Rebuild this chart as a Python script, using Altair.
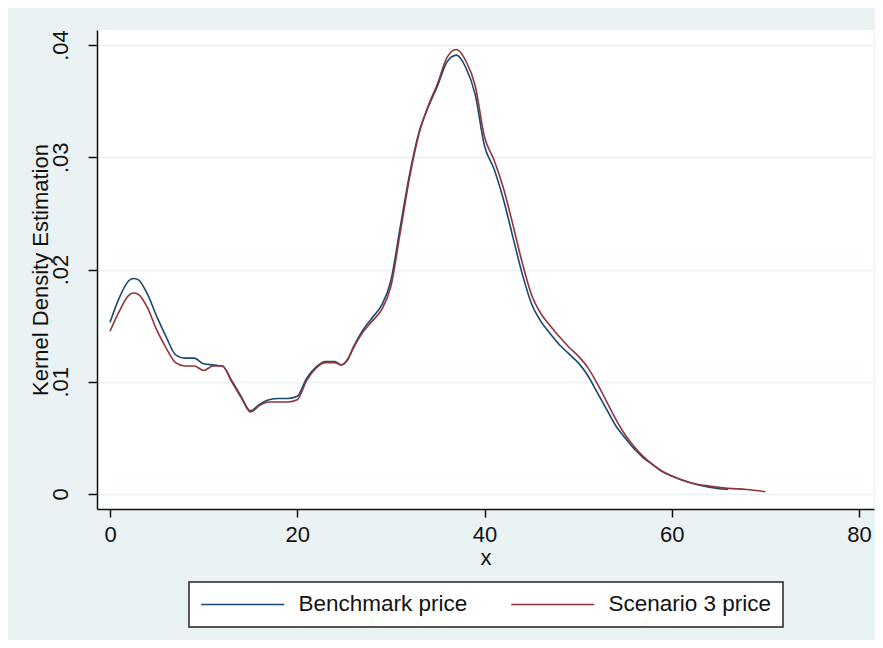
import altair as alt
import pandas as pd

x_vals = [0, 1, 2, 2.5, 3, 4, 5, 6, 7, 8, 9, 10, 11, 12, 13, 14, 15, 16, 17, 18, 19, 20,
          21, 22, 23, 24, 24.7, 25.4, 26, 27, 28, 29, 30, 31, 32, 33, 34, 35, 36, 37, 38,
          39, 40, 41, 42, 43, 44, 45, 46, 47, 48, 49, 50, 51, 52, 53, 54, 55, 56, 57, 58,
          59, 60, 62, 64, 66]

benchmark = [0.0153, 0.0175, 0.0190, 0.0192, 0.0191, 0.0178, 0.0158, 0.0140, 0.0124, 0.0121,
             0.0121, 0.0116, 0.0115, 0.0114, 0.0101, 0.0087, 0.0074, 0.0080, 0.0084, 0.0085,
             0.0085, 0.0087, 0.0103, 0.0113, 0.0118, 0.0118, 0.0115, 0.0120, 0.0131, 0.0146,
             0.0157, 0.0168, 0.0190, 0.0238, 0.0285, 0.0322, 0.0345, 0.0364, 0.0385, 0.0391,
             0.0380, 0.0356, 0.0310, 0.0290, 0.0263, 0.0230, 0.0197, 0.0170, 0.0154, 0.0143,
             0.0133, 0.0125, 0.0117, 0.0106, 0.0091, 0.0076, 0.0061, 0.0050, 0.0040, 0.0032,
             0.0026, 0.0020, 0.0016, 0.0010, 0.0006, 0.0004]

x_vals_s3 = x_vals + [68, 70]

scenario3 = [0.0145, 0.0163, 0.0177, 0.0179, 0.0178, 0.0166, 0.0146, 0.0130, 0.0117, 0.0114,
             0.0114, 0.0110, 0.0114, 0.0114, 0.0100, 0.0086, 0.0073, 0.0079, 0.0082, 0.0082,
             0.0082, 0.0084, 0.0101, 0.0112, 0.0117, 0.0117, 0.0115, 0.0120, 0.0130, 0.0144,
             0.0154, 0.0164, 0.0185, 0.0233, 0.0282, 0.0321, 0.0346, 0.0366, 0.0389, 0.0396,
             0.0386, 0.0364, 0.0318, 0.0298, 0.0273, 0.0241, 0.0207, 0.0178, 0.0161, 0.0150,
             0.0140, 0.0131, 0.0123, 0.0113, 0.0099, 0.0083, 0.0067, 0.0053, 0.0042, 0.0033,
             0.0026, 0.0020, 0.0016, 0.0010, 0.0007, 0.0005, 0.0004, 0.0002]

series_names = ["Benchmark price", "Scenario 3 price"]
series_colors = ["#1A476F", "#90353B"]
x_ticks = [0, 20, 40, 60, 80]
y_ticks = [0, 0.01, 0.02, 0.03, 0.04]

rows = []
for xv, yv in zip(x_vals, benchmark):
    rows.append({"x": xv, "density": yv, "series": series_names[0]})
for xv, yv in zip(x_vals_s3, scenario3):
    rows.append({"x": xv, "density": yv, "series": series_names[1]})
df = pd.DataFrame(rows)

FONT = "Liberation Sans"

chart = alt.Chart(df).mark_line(strokeWidth=1.6, interpolate="monotone").encode(
    x=alt.X("x:Q",
            scale=alt.Scale(domain=[-1.389, 81.6], nice=False, zero=False),
            axis=alt.Axis(values=x_ticks, title="x", grid=False, format="d",
                          labelFont=FONT, labelFontSize=22, labelColor="#111",
                          labelBaseline="alphabetic", labelPadding=24,
                          tickSize=8, tickWidth=1.5, tickColor="#111",
                          domainColor="#111", domainWidth=1.5,
                          titleFont=FONT, titleFontSize=22, titleFontWeight="normal",
                          titleColor="#111", titleBaseline="alphabetic", titleY=55)),
    y=alt.Y("density:Q",
            scale=alt.Scale(domain=[-0.00134, 0.04134], nice=False, zero=False),
            axis=alt.Axis(values=y_ticks, title="Kernel Density Estimation",
                          labelExpr="datum.value == 0 ? '0' : slice(format(datum.value, '.2f'), 1)",
                          labelFont=FONT, labelFontSize=22, labelColor="#111",
                          labelAngle=270, labelAlign="center", labelBaseline="alphabetic",
                          labelPadding=21,
                          tickSize=9, tickWidth=1.5, tickColor="#111",
                          domainColor="#111", domainWidth=1.5,
                          grid=True, gridColor="#EAF2F3", gridWidth=1.3,
                          titleFont=FONT, titleFontSize=22, titleFontWeight="normal",
                          titleColor="#111", titleBaseline="alphabetic", titleX=-50)),
    color=alt.Color("series:N",
                    scale=alt.Scale(domain=series_names, range=series_colors),
                    legend=alt.Legend(orient="none", legendX=92, legendY=552,
                                      direction="horizontal", title=None,
                                      symbolType="M-1,0H7.3", symbolSize=400,
                                      symbolStrokeWidth=1.5,
                                      labelFont=FONT, labelFontSize=22.5, labelColor="#111",
                                      labelOffset=76, columnPadding=40, padding=11,
                                      labelLimit=0,
                                      strokeColor="#222", fillColor="white")),
).properties(
    width=777, height=479,
    autosize=alt.AutoSizeParams(type="none"),
    padding={"left": 89, "top": 22, "right": 1, "bottom": 131},
    background="#EAF2F3",
).configure_view(fill="white", strokeWidth=0).configure_legend(strokeWidth=1.5)

chart.save("out.html", embed_options={"renderer": "svg", "actions": False})
